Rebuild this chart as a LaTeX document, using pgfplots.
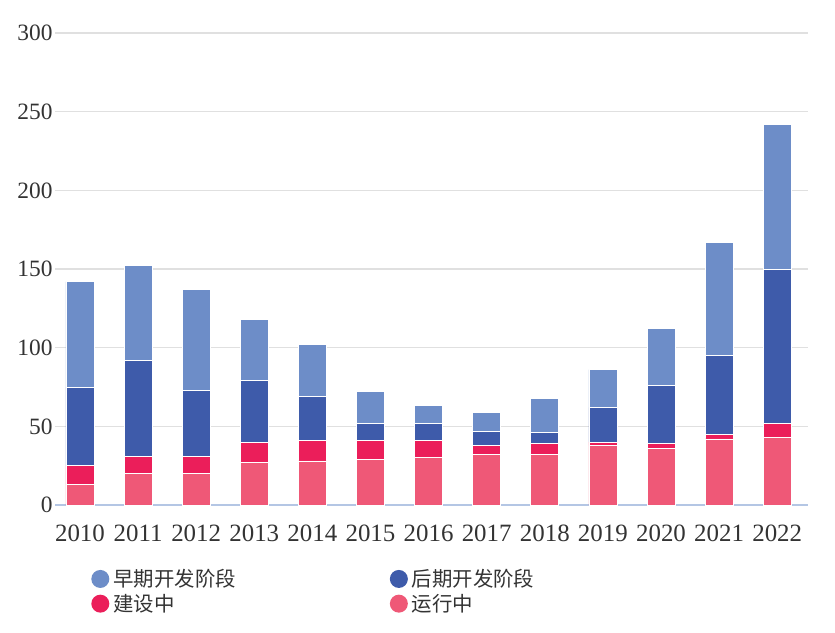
\documentclass[border=0pt]{standalone}
\usepackage{pgfplots}
\usepackage{pgfplotstable}
\pgfplotsset{compat=1.18}
\usepackage{fontspec}
\setmainfont{Liberation Serif}
\newfontfamily\cjk{Noto Sans CJK SC}

\definecolor{early}{HTML}{6D8DC8}
\definecolor{late}{HTML}{3E5BAA}
\definecolor{constr}{HTML}{EB1E5A}
\definecolor{oper}{HTML}{EF5877}
\definecolor{txt}{HTML}{333333}
\definecolor{axisblue}{HTML}{B4C6E4}

% x year early late constr oper
\pgfplotstableread{
x year early late constr oper
0 2010 67 50 12 13
1 2011 60 61 11 20
2 2012 64 42 11 20
3 2013 39 39 13 27
4 2014 33 28 13 28
5 2015 20 11 12 29
6 2016 11 11 11 30
7 2017 12 9 6 32
8 2018 22 7 7 32
9 2019 24 22 2 38
10 2020 36 37 3 36
11 2021 72 50 3 42
12 2022 92 98 9 43
}\data

\begin{document}
\begin{tikzpicture}
\useasboundingbox (-55bp,-128bp) rectangle (780bp,505bp);
\begin{axis}[
    at={(0,0)}, anchor=south west,
    scale only axis, width=753bp, height=472bp,
    ybar stacked, bar width=28bp,
    xmin=-0.43, xmax=12.53, ymin=0, ymax=300,
    ytick={0,50,...,300},
    xtick=data, xticklabels from table={\data}{year},
    axis x line*=bottom, axis y line*=left,
    x axis line style={draw=axisblue, line width=1.2bp, -},
    y axis line style={draw=none},
    major tick length=0pt,
    ymajorgrids, grid style={draw=black!12, line width=1.2bp},
    tick label style={font=\fontsize{23.5}{25}\selectfont, text=txt},
    /pgf/number format/assume math mode=true,
    yticklabel style={xshift=1bp},
    xticklabel style={font=\fontsize{25}{27}\selectfont, yshift=-16bp},
    every axis plot/.append style={draw=white, line width=0.8bp},
    legend image code/.code={\fill[#1, draw=none] (9bp,0bp) circle (9bp);},
    reverse legend,
    legend columns=2,
    legend cell align=left,
    legend style={at={(0.044,-0.13)}, anchor=north west, draw=none, fill=none,
        font=\cjk\fontsize{20.5}{22}\selectfont, text=txt,
        nodes={inner xsep=4bp, inner ysep=1bp},
        /tikz/every even column/.append style={column sep=150bp},
        /tikz/every row/.append style={row sep=0bp},
        row sep=4bp},
]
\addplot[fill=oper] table[x=x, y=oper] {\data};
\addplot[fill=constr] table[x=x, y=constr] {\data};
\addplot[fill=late] table[x=x, y=late] {\data};
\addplot[fill=early] table[x=x, y=early] {\data};
\legend{运行中, 建设中, 后期开发阶段, 早期开发阶段}
\end{axis}
\end{tikzpicture}
\end{document}
